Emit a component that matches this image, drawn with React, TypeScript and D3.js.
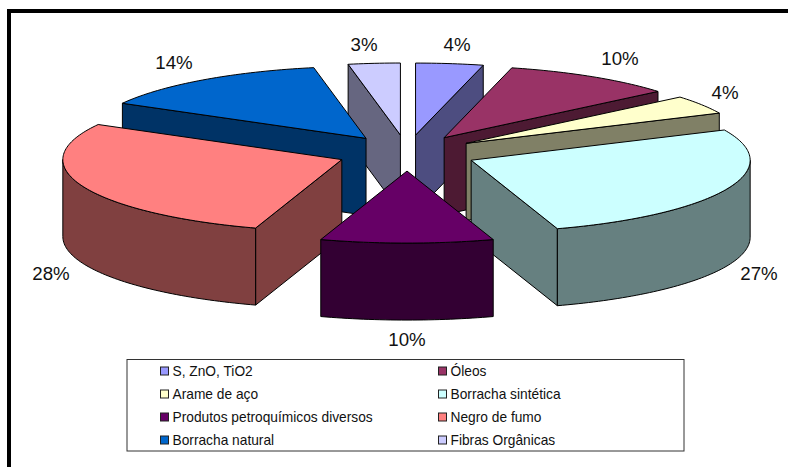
import React from "react";
import * as d3 from "d3";

const categories = [
  "S, ZnO, TiO2",
  "Óleos",
  "Arame de aço",
  "Borracha sintética",
  "Produtos petroquímicos diversos",
  "Negro de fumo",
  "Borracha natural",
  "Fibras Orgânicas",
];
const shares = [3.9, 10, 4.2, 26.9, 10, 28.1, 13.9, 3.0];
const percentLabels = ["4%", "10%", "4%", "27%", "10%", "28%", "14%", "3%"];
const topColors = ["#9999ff", "#993366", "#ffffcc", "#ccffff", "#660066", "#ff8080", "#0066cc", "#ccccff"];
const wallColors = ["#4d4d80", "#4d1a33", "#808066", "#668080", "#330033", "#804040", "#003366", "#666680"];

// back slices first, the front one last
const paintOrder = [7, 0, 6, 1, 2, 3, 5, 4];

const width = 788;
const height = 467;
const cx = 407;
const cy = 153;
const rx = 279;
const ry = 72;
const depth = 77;
const explode = 70 / rx; // in radius units

// label centres, hand placed like the Excel ones
const labelX = [457, 620, 725, 759, 407, 51, 174, 364];
const labelY = [51, 65, 99, 280, 346, 280, 69, 51];

// unit pie space -> screen, y flattened by the tilt
const sx = d3.scaleLinear().domain([-1, 1]).range([cx - rx, cx + rx]);
const sy = d3.scaleLinear().domain([-1, 1]).range([cy - ry, cy + ry]);

const slices = d3.pie<number>().sort(null).value((d) => d)(shares);

type Pt = [number, number];

function arcPoints(a0: number, a1: number, mid: number, r = 1): Pt[] {
  const n = Math.max(2, Math.ceil((a1 - a0) / 0.02));
  return d3.range(n + 1).map((i) => {
    const a = a0 + ((a1 - a0) * i) / n;
    return [
      sx(explode * Math.sin(mid) + r * Math.sin(a)),
      sy(-explode * Math.cos(mid) - r * Math.cos(a)),
    ] as Pt;
  });
}

const line = d3.line<Pt>();
const closed = (pts: Pt[]) => line(pts) + "Z";
const down = (pts: Pt[]) => pts.map(([x, y]) => [x, y + depth] as Pt);
const wall = (pts: Pt[]) => closed([...pts, ...down(pts).reverse()]);

function sliceParts(i: number) {
  const { startAngle: a0, endAngle: a1 } = slices[i];
  const mid = (a0 + a1) / 2;
  const apex: Pt = [sx(explode * Math.sin(mid)), sy(-explode * Math.cos(mid))];
  const rim = arcPoints(a0, a1, mid);
  const walls: string[] = [];
  // radial walls only show when they face the viewer
  if (Math.sin(a0) < -1e-6) walls.push(wall([apex, rim[0]]));
  if (Math.sin(a1) > 1e-6) walls.push(wall([apex, rim[rim.length - 1]]));
  // rim wall is the part of the arc in the front half
  const f0 = Math.max(a0, Math.PI / 2);
  const f1 = Math.min(a1, (3 * Math.PI) / 2);
  if (f1 > f0) walls.push(wall(arcPoints(f0, f1, mid)));
  return { walls, top: closed([apex, ...rim]) };
}

const legendRows = d3.range(4);
const legendY = d3.scalePoint<number>().domain(legendRows).range([371, 440]);
const legendX = [160, 438];

export default function App() {
  const font = "'Liberation Sans', Arial, sans-serif";
  return (
    <svg
      width={width}
      height={height}
      style={{ position: "absolute", left: 0, top: 0, background: "#fff" }}
      fontFamily={font}
    >
      <path d={`M9,${height + 5}V11H${width + 5}`} fill="none" stroke="#000" strokeWidth={4} />

      {paintOrder.map((i) => {
        const p = sliceParts(i);
        return (
          <g key={i} stroke="#000" strokeWidth={1} strokeLinejoin="round">
            {p.walls.map((d, j) => (
              <path key={j} d={d} fill={wallColors[i]} />
            ))}
            <path d={p.top} fill={topColors[i]} />
          </g>
        );
      })}

      {percentLabels.map((t, i) => (
        <text key={i} x={labelX[i]} y={labelY[i]} textAnchor="middle" fontSize={18.7} fill="#111">
          {t}
        </text>
      ))}

      <rect x={127} y={359.5} width={557} height={91.5} fill="#fff" stroke="#333" strokeWidth={1} />
      {categories.map((c, i) => {
        const col = i % 2;
        const row = Math.floor(i / 2);
        const y = legendY(row) as number;
        return (
          <g key={c}>
            <rect x={legendX[col] + 0.5} y={y - 4} width={8} height={8} fill={topColors[i]} stroke="#222" />
            <text x={legendX[col] + 12.5} y={y + 4.5} fontSize={13.75} fill="#111">
              {c}
            </text>
          </g>
        );
      })}
    </svg>
  );
}
